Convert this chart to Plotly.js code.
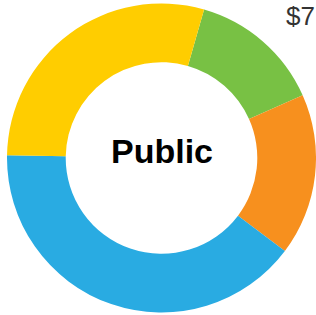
<!DOCTYPE html>
<html>
<head>
<meta charset="utf-8">
<script src="https://cdn.plot.ly/plotly-3.0.1.min.js"></script>
<style>html,body{margin:0;padding:0;background:#fff;}#chart{width:316px;height:315px;}</style>
</head>
<body>
<div id="chart"></div>
<script>
const labels = ["Green", "Orange", "Blue", "Yellow"];
const values = [50, 61, 144, 105];
const colors = ["#78c144", "#f7901e", "#29abe2", "#ffcd00"];
const centerText = "Public";
const cornerText = "$7";

const data = [{
  type: "pie",
  labels: labels,
  values: values,
  hole: 0.62,
  sort: false,
  direction: "clockwise",
  rotation: 16,
  textinfo: "none",
  hoverinfo: "label+value",
  marker: {colors: colors, line: {width: 0}},
  domain: {x: [7/316, 1], y: [2/315, 312/315]},
  showlegend: false
}];

const layout = {
  width: 316, height: 315,
  margin: {l: 0, r: 0, t: 0, b: 0},
  paper_bgcolor: "#fff",
  showlegend: false,
  annotations: [
    {text: "<b>" + centerText + "</b>", x: 162/316, y: 1 - 151/315, xref: "paper", yref: "paper",
     showarrow: false, xanchor: "center", yanchor: "middle",
     font: {family: "Liberation Sans, Arial, sans-serif", size: 34, color: "#000"}},
    {text: cornerText, x: 284/316, y: 1 - 16/315, xref: "paper", yref: "paper",
     showarrow: false, xanchor: "left", yanchor: "middle",
     font: {family: "Liberation Sans, Arial, sans-serif", size: 26, color: "#333"}}
  ]
};

Plotly.newPlot("chart", data, layout, {staticPlot: true, displayModeBar: false});
</script>
</body>
</html>
